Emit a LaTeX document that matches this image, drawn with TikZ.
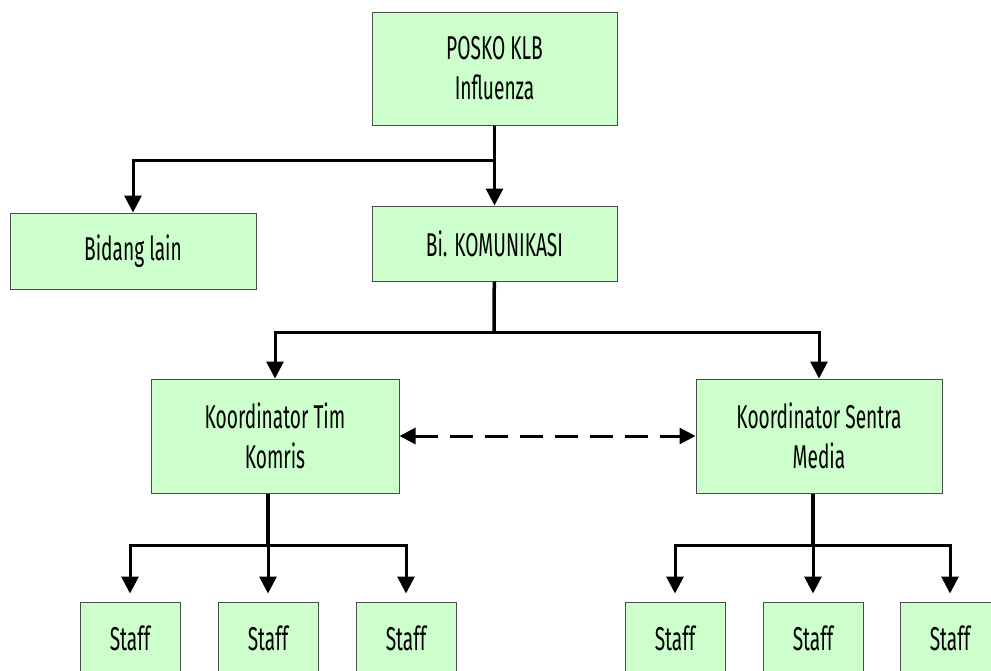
\documentclass[tikz,border=0pt]{standalone}
\usepackage{fontspec}
\setmainfont{Fira Sans}[FakeStretch=0.58]
\usetikzlibrary{arrows.meta}
\definecolor{boxgreen}{HTML}{CCFFCC}
\tikzset{box/.style = {draw = black!70, fill = boxgreen, line width = 1pt, align = center,
                       font = \fontsize{33}{40}\selectfont, inner sep = 0}}
\tikzset{arr/.style = {line width = 3pt, -{Triangle[width = 17pt, length = 17pt]}}}
\tikzset{link/.style = {line width = 3.5pt}}

\begin{document}
\begin{tikzpicture}[x = 1pt, y = -1pt]
	\clip (0,0) rectangle (991,670);
	\useasboundingbox (0,0) rectangle (991,670);
	\node [box, minimum width = 245pt, minimum height = 113pt] (posko) at (494.5,68.5) {POSKO KLB\\Influenza};
	\node [box, minimum width = 245pt, minimum height = 75pt] (komunikasi) at (494.5,243.5) {Bi. KOMUNIKASI};
	\node [box, minimum width = 246pt, minimum height = 76pt] (lain) at (133,251) {Bidang lain};
	\node [box, minimum width = 248pt, minimum height = 114pt] (komris) at (275,436) {Koordinator Tim\\Komris};
	\node [box, minimum width = 246pt, minimum height = 114pt] (media) at (819,436) {Koordinator Sentra\\Media};
	\foreach \n/\x in {1/130, 2/268, 3/406, 4/675, 5/813, 6/950}
		\node [box, minimum width = 100pt, minimum height = 72pt] (staff\n) at (\x,638) {Staff};
	% posko
	\coordinate (p1) at (494,160);
	\draw [arr] (posko) -- (komunikasi);
	\draw [arr] (p1) -| (lain);
	% komunikasi
	\coordinate (m1) at (494,332);
	\draw [link] (komunikasi) -- (m1);
	\draw [arr] (m1) -| (komris);
	\draw [arr] (m1) -| (media);
	\draw [arr, {Triangle[width = 16pt, length = 16pt]}-{Triangle[width = 16pt, length = 16pt]}, dash pattern = on 23pt off 12pt] (komris) -- (media);
	% staff
	\coordinate (s1) at (268,545);
	\coordinate (s2) at (813,545);
	\draw [link] (komris.south -| s1) -- (s1);
	\draw [link] (media.south -| s2) -- (s2);
	\foreach \n in {1,2,3}
		\draw [arr, shorten > = 8pt] (s1) -| (staff\n);
	\foreach \n in {4,5,6}
		\draw [arr, shorten > = 8pt] (s2) -| (staff\n);
\end{tikzpicture}
\end{document}
